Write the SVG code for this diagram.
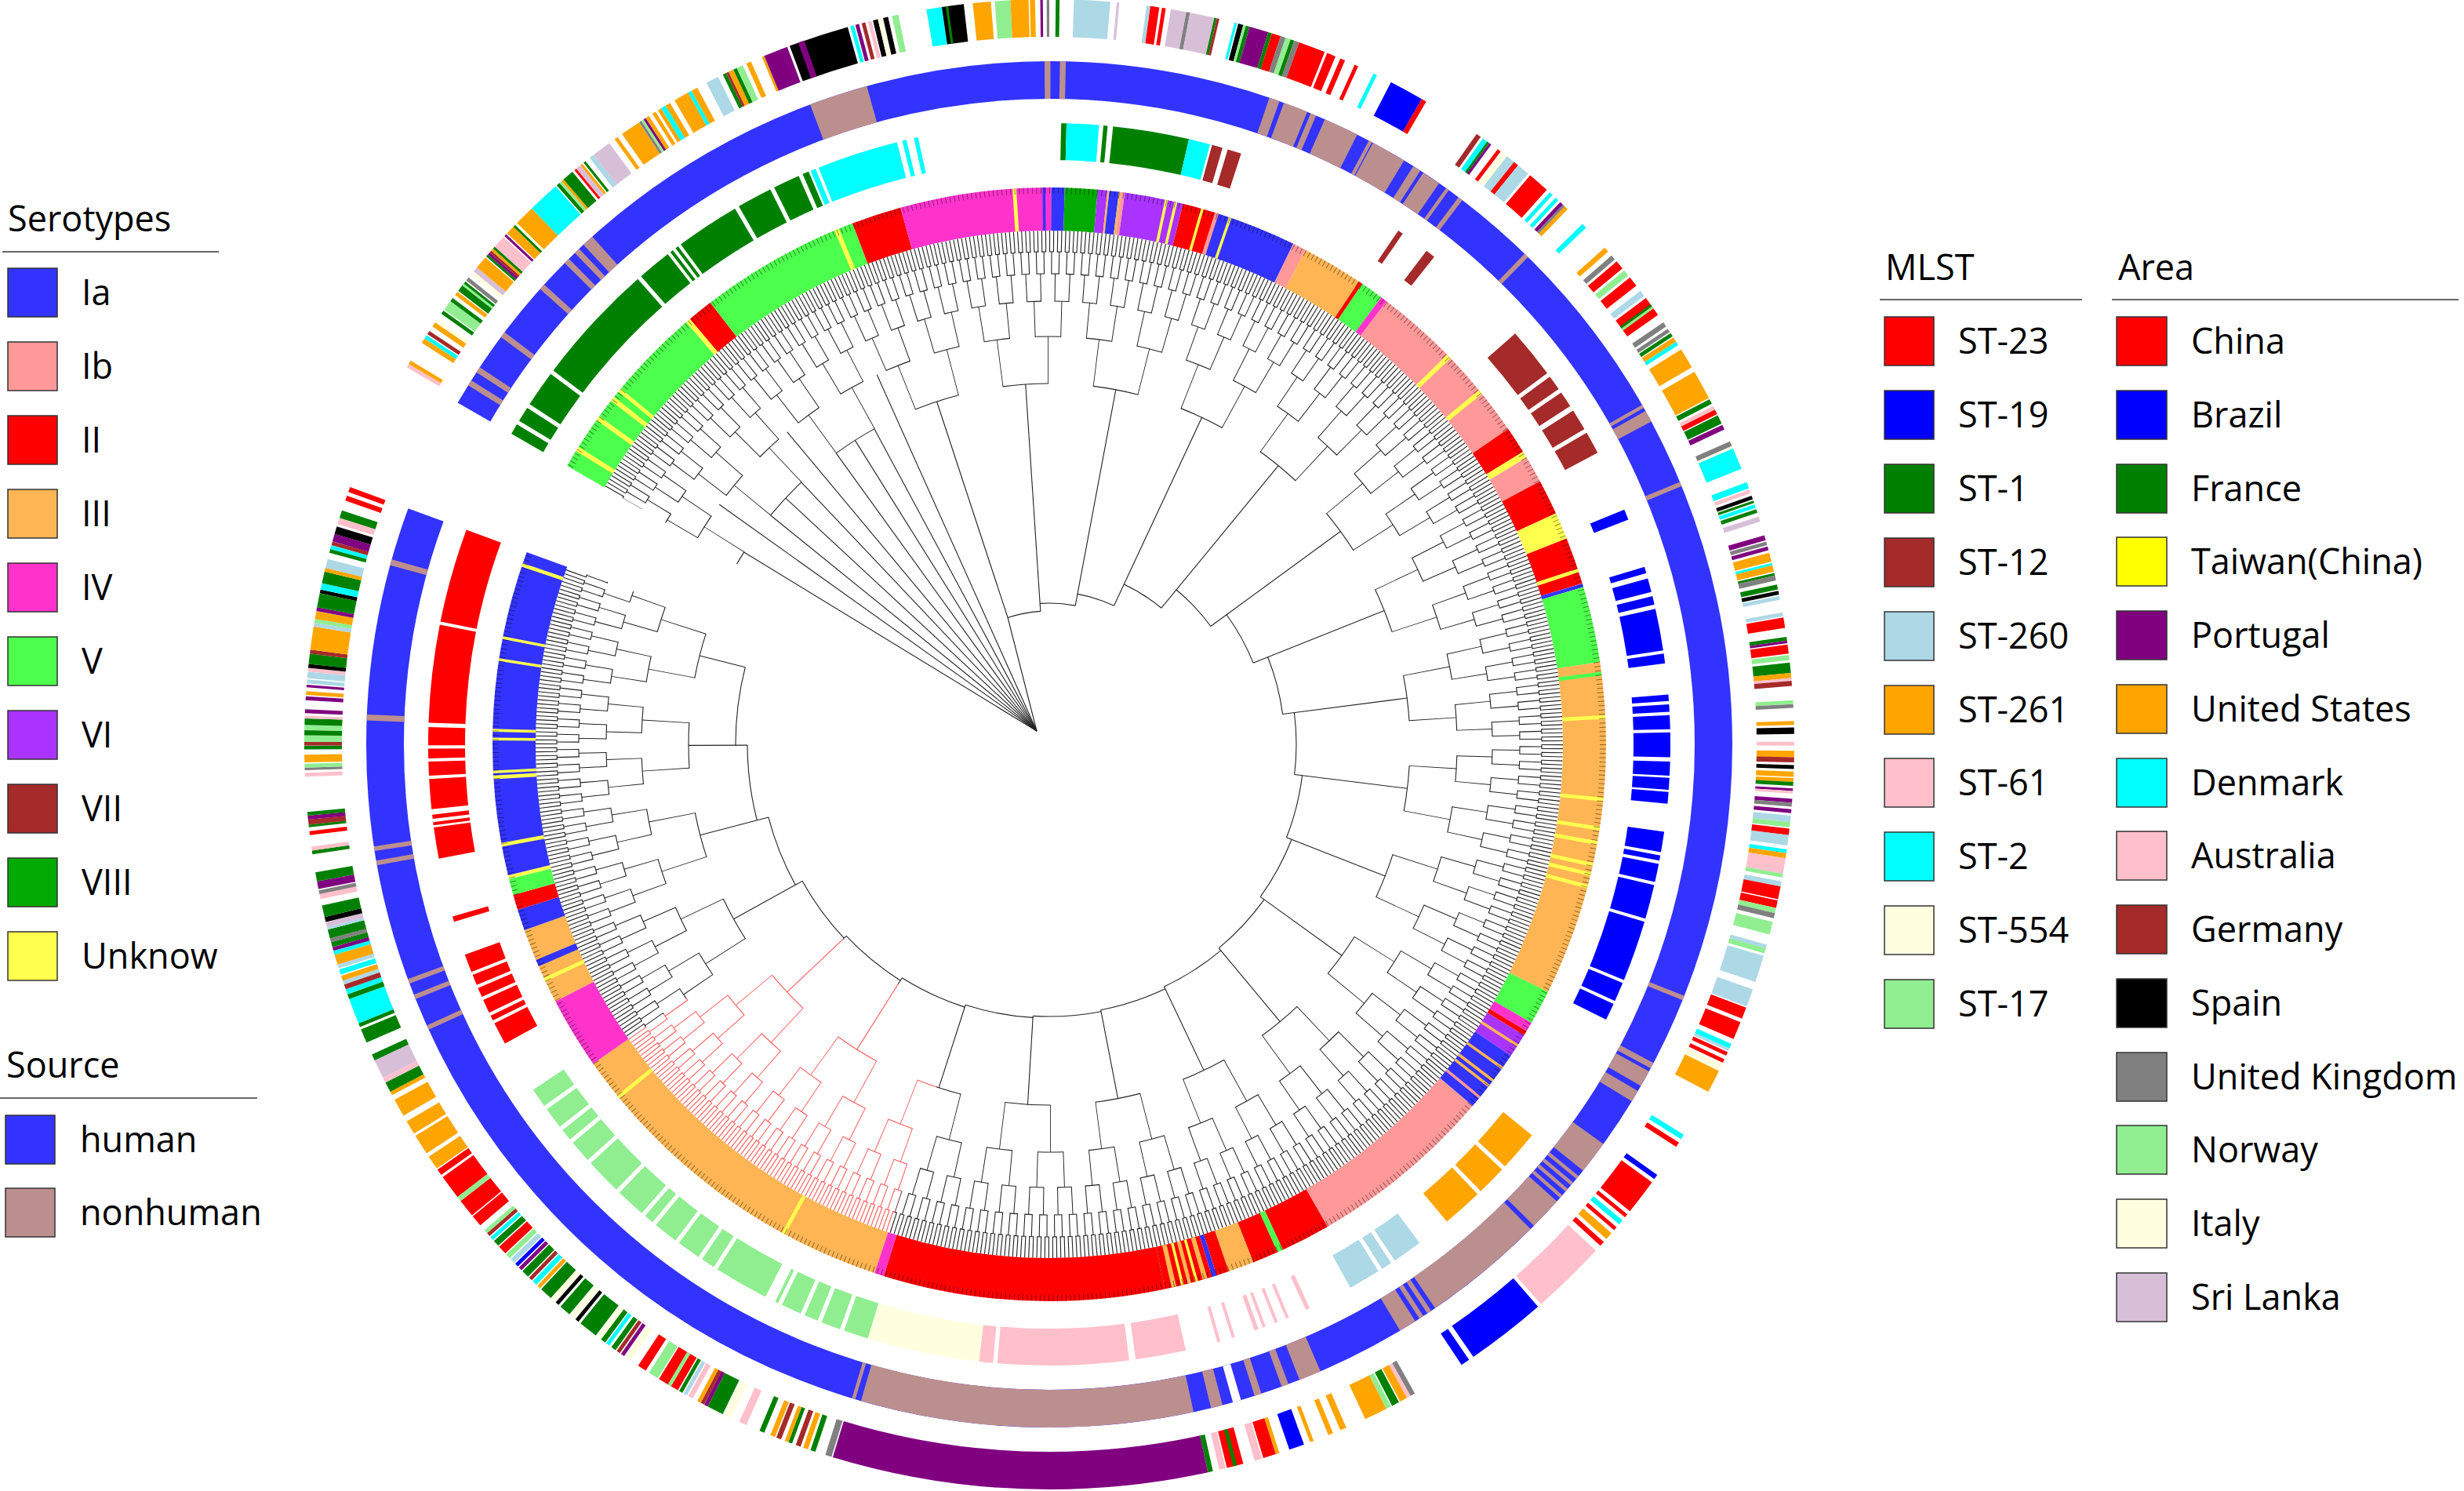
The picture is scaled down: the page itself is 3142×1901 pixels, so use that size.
<svg xmlns="http://www.w3.org/2000/svg" width="3142" height="1901" viewBox="0 0 3142 1901">
<style>
text{font-family:"Open Sans","Noto Sans","Liberation Sans",sans-serif;font-size:45px;fill:#000}
.lg rect{stroke:#333;stroke-width:1.5}
.ln{stroke:#333;stroke-width:1.5}
.a{stroke:#3333ff}.b{stroke:#ff9999}.c{stroke:#ff0000}.d{stroke:#ffb553}.e{stroke:#ff33cc}.f{stroke:#4dff4d}.g{stroke:#aa33ff}.i{stroke:#00aa00}.u{stroke:#ffff4d}
.R{stroke:#ff0000}.B{stroke:#0000ff}.G{stroke:#008000}.Br{stroke:#a52a2a}.Lb{stroke:#add8e6}.O{stroke:#ffa500}.Pk{stroke:#ffc0cb}.Cy{stroke:#00ffff}.Iv{stroke:#ffffe0}.Lg{stroke:#90ee90}.Pu{stroke:#800080}.Bk{stroke:#000}.Gy{stroke:#808080}.Th{stroke:#d8bfd8}.nh{stroke:#bc8f8f}.W{stroke:#fff}
#tree circle,#tree path{fill:none}
</style>
<defs>
<circle id="S0" r="682.5" pathLength="360" fill="none"/>
<circle id="M0" r="768.5" pathLength="360" fill="none"/>
<circle id="H0" r="847" pathLength="360" fill="none"/>
<circle id="A0" r="926" pathLength="360" fill="none"/>
<mask id="mk" maskUnits="userSpaceOnUse" x="-1000" y="-1000" width="2000" height="2000">
<rect x="-1000" y="-1000" width="2000" height="2000" fill="#fff"/>
<circle r="511" fill="none" stroke="#000" stroke-width="298" pathLength="360" stroke-dasharray="36.7 400" stroke-dashoffset="-108.3"/>
<circle r="362" fill="none" stroke="#000" stroke-width="724" pathLength="360" stroke-dasharray="9.8 400" stroke-dashoffset="-200.2"/>
</mask>
<mask id="mr" maskUnits="userSpaceOnUse" x="-1000" y="-1000" width="2000" height="2000">
<circle r="511" fill="none" stroke="#fff" stroke-width="298" pathLength="360" stroke-dasharray="36.7 400" stroke-dashoffset="-108.3"/>
</mask>
<g id="tree">
<circle r="641.5" stroke-width="27" pathLength="360" stroke-dasharray="0.1 0.35"/>
<circle r="628" pathLength="360" stroke-dasharray="0.55 0.35"/>
<circle r="614" stroke-width="28" pathLength="360" stroke-dasharray="0.1 0.8" stroke-dashoffset="-0.225"/>
<circle r="600" pathLength="360" stroke-dasharray="1 0.8" stroke-dashoffset="-0.225"/>
<circle r="582.5" stroke-width="35" pathLength="360" stroke-dasharray="0.1 1.7" stroke-dashoffset="-0.675"/>
<circle r="565" pathLength="360" stroke-dasharray="1.9 1.7" stroke-dashoffset="-0.675"/>
<circle r="542.5" stroke-width="45" pathLength="360" stroke-dasharray="0.1 3.5" stroke-dashoffset="-1.575"/>
<circle r="520" pathLength="360" stroke-dasharray="3.7 3.5" stroke-dashoffset="-1.575"/>
<circle r="490" stroke-width="60" pathLength="360" stroke-dasharray="0.1 7.1" stroke-dashoffset="-3.375"/>
<circle r="460" pathLength="360" stroke-dasharray="7.3 7.1" stroke-dashoffset="-3.375"/>
<circle r="170" pathLength="360" stroke-dasharray="14.4 400" stroke-dashoffset="-251.83"/>
<circle r="180" pathLength="360" stroke-dasharray="14.4 400" stroke-dashoffset="-266.23"/>
<circle r="195" pathLength="360" stroke-dasharray="14.4 400" stroke-dashoffset="-280.63"/>
<circle r="225" pathLength="360" stroke-dasharray="14.4 400" stroke-dashoffset="-295.03"/>
<circle r="255" pathLength="360" stroke-dasharray="14.4 400" stroke-dashoffset="-309.43"/>
<circle r="280" pathLength="360" stroke-dasharray="14.4 400" stroke-dashoffset="-323.83"/>
<circle r="300" pathLength="360" stroke-dasharray="14.4 400" stroke-dashoffset="-338.23"/>
<circle r="315" pathLength="360" stroke-dasharray="7.37 400" stroke-dashoffset="-352.63"/>
<circle r="315" pathLength="360" stroke-dasharray="7.03 400"/>
<circle r="325" pathLength="360" stroke-dasharray="14.4 400" stroke-dashoffset="-7.03"/>
<circle r="332" pathLength="360" stroke-dasharray="14.4 400" stroke-dashoffset="-21.43"/>
<circle r="338" pathLength="360" stroke-dasharray="14.4 400" stroke-dashoffset="-35.83"/>
<circle r="342" pathLength="360" stroke-dasharray="14.4 400" stroke-dashoffset="-50.23"/>
<circle r="345" pathLength="360" stroke-dasharray="14.4 400" stroke-dashoffset="-64.63"/>
<circle r="347" pathLength="360" stroke-dasharray="14.4 400" stroke-dashoffset="-79.03"/>
<circle r="349" pathLength="360" stroke-dasharray="14.4 400" stroke-dashoffset="-93.43"/>
<circle r="352" pathLength="360" stroke-dasharray="14.4 400" stroke-dashoffset="-107.83"/>
<circle r="356" pathLength="360" stroke-dasharray="14.4 400" stroke-dashoffset="-122.23"/>
<circle r="360" pathLength="360" stroke-dasharray="14.4 400" stroke-dashoffset="-136.63"/>
<circle r="370" pathLength="360" stroke-dasharray="14.4 400" stroke-dashoffset="-151.03"/>
<circle r="385" pathLength="360" stroke-dasharray="14.4 400" stroke-dashoffset="-165.43"/>
<circle r="400" pathLength="360" stroke-dasharray="14.4 400" stroke-dashoffset="-179.83"/>
<path d="M-16 -17L-389.3 -245"/>
<path d="M-16 -17L-420.7 -305.7"/>
<path d="M-16 -17L-355.4 -292"/>
<path d="M-16 -17L-336.2 -313.9"/>
<path d="M-16 -17L-316.2 -334.1"/>
<path d="M-16 -17L-334.3 -398.3"/>
<path d="M-16 -17L-271.8 -371.1"/>
<path d="M-16 -17L-247.7 -387.6"/>
<path d="M-16 -17L-223.1 -402.3"/>
<path d="M-16 -17L-219.8 -471.3"/>
<path d="M-16 -17L-52.9 -161.5L-143.4 -437"/>
<path d="M170 0H460" transform="rotate(266.23)"/>
<path d="M180 0H460" transform="rotate(280.63)"/>
<path d="M195 0H460" transform="rotate(295.03)"/>
<path d="M225 0H460" transform="rotate(309.43)"/>
<path d="M255 0H460" transform="rotate(323.83)"/>
<path d="M280 0H460" transform="rotate(338.23)"/>
<path d="M300 0H460" transform="rotate(352.63)"/>
<path d="M315 0H460" transform="rotate(7.03)"/>
<path d="M325 0H460" transform="rotate(21.43)"/>
<path d="M332 0H460" transform="rotate(35.83)"/>
<path d="M338 0H460" transform="rotate(50.23)"/>
<path d="M342 0H460" transform="rotate(64.63)"/>
<path d="M345 0H460" transform="rotate(79.03)"/>
<path d="M347 0H460" transform="rotate(93.43)"/>
<path d="M349 0H460" transform="rotate(107.83)"/>
<path d="M352 0H460" transform="rotate(122.23)"/>
<path d="M356 0H460" transform="rotate(136.63)"/>
<path d="M360 0H460" transform="rotate(151.03)"/>
<path d="M370 0H460" transform="rotate(165.43)"/>
<path d="M385 0H460" transform="rotate(179.83)"/>
<path d="M400 0H460" transform="rotate(194.23)"/>
</g>
</defs>
<rect width="3142" height="1901" fill="#fff"/>

<g id="phylogeny" transform="translate(1338 949)">
<use href="#tree" stroke="#222" stroke-width="1.1" mask="url(#mk)"/>
<use href="#tree" stroke="#ff5a5a" stroke-width="1.1" mask="url(#mr)"/>
</g>

<g id="serotype-ring" transform="translate(1338 949)" stroke-width="55">
<use href="#S0" class="f" stroke-dasharray="19.3 400" stroke-dashoffset="-210"/>
<use href="#S0" class="c" stroke-dasharray="2.7 400" stroke-dashoffset="-229.8"/>
<use href="#S0" class="f" stroke-dasharray="16.8 400" stroke-dashoffset="-232.5"/>
<use href="#S0" class="c" stroke-dasharray="5.2 400" stroke-dashoffset="-249.3"/>
<use href="#S0" class="e" stroke-dasharray="15.7 400" stroke-dashoffset="-254.5"/>
<use href="#S0" class="a" stroke-dasharray="1.4 400" stroke-dashoffset="-270.2"/>
<use href="#S0" class="i" stroke-dasharray="3.4 400" stroke-dashoffset="-271.6"/>
<use href="#S0" class="g" stroke-dasharray="1 400" stroke-dashoffset="-275"/>
<use href="#S0" class="d" stroke-dasharray="0.2 400" stroke-dashoffset="-276"/>
<use href="#S0" class="a" stroke-dasharray="1 400" stroke-dashoffset="-276.2"/>
<use href="#S0" class="d" stroke-dasharray="0.2 400" stroke-dashoffset="-277.2"/>
<use href="#S0" class="b" stroke-dasharray="0.4 400" stroke-dashoffset="-277.4"/>
<use href="#S0" class="g" stroke-dasharray="6.1 400" stroke-dashoffset="-277.8"/>
<use href="#S0" class="c" stroke-dasharray="3.8 400" stroke-dashoffset="-283.9"/>
<use href="#S0" class="a" stroke-dasharray="8.3 400" stroke-dashoffset="-287.7"/>
<use href="#S0" class="b" stroke-dasharray="1.4 400" stroke-dashoffset="-296"/>
<use href="#S0" class="d" stroke-dasharray="6.6 400" stroke-dashoffset="-297.4"/>
<use href="#S0" class="f" stroke-dasharray="2.4 400" stroke-dashoffset="-304.2"/>
<use href="#S0" class="e" stroke-dasharray="0.7 400" stroke-dashoffset="-306.6"/>
<use href="#S0" class="b" stroke-dasharray="18.2 400" stroke-dashoffset="-307.3"/>
<use href="#S0" class="c" stroke-dasharray="2.8 400" stroke-dashoffset="-325.5"/>
<use href="#S0" class="u" stroke-dasharray="0.7 400" stroke-dashoffset="-328.3"/>
<use href="#S0" class="b" stroke-dasharray="2.8 400" stroke-dashoffset="-329"/>
<use href="#S0" class="c" stroke-dasharray="3.7 400" stroke-dashoffset="-331.8"/>
<use href="#S0" class="u" stroke-dasharray="2.8 400" stroke-dashoffset="-335.5"/>
<use href="#S0" class="c" stroke-dasharray="4.9 400" stroke-dashoffset="-338.3"/>
<use href="#S0" class="a" stroke-dasharray="0.4 400" stroke-dashoffset="-343.2"/>
<use href="#S0" class="f" stroke-dasharray="7.9 400" stroke-dashoffset="-343.6"/>
<use href="#S0" class="d" stroke-dasharray="8.5 400" stroke-dashoffset="-351.5"/>
<use href="#S0" class="d" stroke-dasharray="26.4 400"/>
<use href="#S0" class="f" stroke-dasharray="3.6 400" stroke-dashoffset="-26.4"/>
<use href="#S0" class="e" stroke-dasharray="1 400" stroke-dashoffset="-30"/>
<use href="#S0" class="c" stroke-dasharray="0.5 400" stroke-dashoffset="-31"/>
<use href="#S0" class="g" stroke-dasharray="2.5 400" stroke-dashoffset="-31.5"/>
<use href="#S0" class="a" stroke-dasharray="6.5 400" stroke-dashoffset="-34"/>
<use href="#S0" class="b" stroke-dasharray="19.5 400" stroke-dashoffset="-40.5"/>
<use href="#S0" class="c" stroke-dasharray="5.2 400" stroke-dashoffset="-60"/>
<use href="#S0" class="f" stroke-dasharray="0.6 400" stroke-dashoffset="-65.2"/>
<use href="#S0" class="c" stroke-dasharray="2.7 400" stroke-dashoffset="-65.8"/>
<use href="#S0" class="d" stroke-dasharray="2.7 400" stroke-dashoffset="-68.5"/>
<use href="#S0" class="c" stroke-dasharray="1.3 400" stroke-dashoffset="-71.2"/>
<use href="#S0" class="a" stroke-dasharray="0.5 400" stroke-dashoffset="-72.5"/>
<use href="#S0" class="c" stroke-dasharray="5 400" stroke-dashoffset="-73"/>
<use href="#S0" class="c" stroke-dasharray="29.3 400" stroke-dashoffset="-78"/>
<use href="#S0" class="e" stroke-dasharray="1 400" stroke-dashoffset="-107.3"/>
<use href="#S0" class="d" stroke-dasharray="36.7 400" stroke-dashoffset="-108.3"/>
<use href="#S0" class="e" stroke-dasharray="7.5 400" stroke-dashoffset="-145"/>
<use href="#S0" class="d" stroke-dasharray="8 400" stroke-dashoffset="-152.5"/>
<use href="#S0" class="a" stroke-dasharray="2.2 400" stroke-dashoffset="-160.5"/>
<use href="#S0" class="c" stroke-dasharray="1.6 400" stroke-dashoffset="-162.7"/>
<use href="#S0" class="f" stroke-dasharray="1.7 400" stroke-dashoffset="-164.3"/>
<use href="#S0" class="u" stroke-dasharray="0.4 400" stroke-dashoffset="-166"/>
<use href="#S0" class="a" stroke-dasharray="33.8 400" stroke-dashoffset="-166.4"/>
<use href="#S0" class="u" stroke-dasharray="0.5 400" stroke-dashoffset="-211.8"/>
<use href="#S0" class="u" stroke-dasharray="0.5 400" stroke-dashoffset="-215.6"/>
<use href="#S0" class="u" stroke-dasharray="0.5 400" stroke-dashoffset="-218.1"/>
<use href="#S0" class="u" stroke-dasharray="0.4 400" stroke-dashoffset="-219.3"/>
<use href="#S0" class="u" stroke-dasharray="0.5 400" stroke-dashoffset="-229.3"/>
<use href="#S0" class="u" stroke-dasharray="0.5 400" stroke-dashoffset="-247.3"/>
<use href="#S0" class="u" stroke-dasharray="0.4 400" stroke-dashoffset="-266.2"/>
<use href="#S0" class="a" stroke-dasharray="0.3 400" stroke-dashoffset="-269.3"/>
<use href="#S0" class="u" stroke-dasharray="0.3 400" stroke-dashoffset="-282"/>
<use href="#S0" class="u" stroke-dasharray="0.3 400" stroke-dashoffset="-283"/>
<use href="#S0" class="u" stroke-dasharray="0.3 400" stroke-dashoffset="-285.8"/>
<use href="#S0" class="b" stroke-dasharray="0.4 400" stroke-dashoffset="-287.3"/>
<use href="#S0" class="u" stroke-dasharray="0.3 400" stroke-dashoffset="-288.8"/>
<use href="#S0" class="c" stroke-dasharray="0.4 400" stroke-dashoffset="-303.8"/>
<use href="#S0" class="u" stroke-dasharray="0.5 400" stroke-dashoffset="-315.6"/>
<use href="#S0" class="u" stroke-dasharray="0.5 400" stroke-dashoffset="-320.5"/>
<use href="#S0" class="u" stroke-dasharray="0.4 400" stroke-dashoffset="-341.6"/>
<use href="#S0" class="f" stroke-dasharray="0.4 400" stroke-dashoffset="-352.5"/>
<use href="#S0" class="u" stroke-dasharray="0.4 400" stroke-dashoffset="-357"/>
<use href="#S0" class="u" stroke-dasharray="0.4 400" stroke-dashoffset="-5.5"/>
<use href="#S0" class="u" stroke-dasharray="0.4 400" stroke-dashoffset="-8.5"/>
<use href="#S0" class="u" stroke-dasharray="0.4 400" stroke-dashoffset="-10"/>
<use href="#S0" class="u" stroke-dasharray="0.4 400" stroke-dashoffset="-12.3"/>
<use href="#S0" class="u" stroke-dasharray="0.4 400" stroke-dashoffset="-13.3"/>
<use href="#S0" class="u" stroke-dasharray="0.4 400" stroke-dashoffset="-14.6"/>
<use href="#S0" class="d" stroke-dasharray="0.3 400" stroke-dashoffset="-32.6"/>
<use href="#S0" class="d" stroke-dasharray="0.3 400" stroke-dashoffset="-35.4"/>
<use href="#S0" class="d" stroke-dasharray="0.3 400" stroke-dashoffset="-37"/>
<use href="#S0" class="d" stroke-dasharray="0.3 400" stroke-dashoffset="-37.7"/>
<use href="#S0" class="b" stroke-dasharray="0.3 400" stroke-dashoffset="-39.2"/>
<use href="#S0" class="d" stroke-dasharray="0.5 400" stroke-dashoffset="-73.5"/>
<use href="#S0" class="u" stroke-dasharray="0.3 400" stroke-dashoffset="-74.5"/>
<use href="#S0" class="d" stroke-dasharray="0.4 400" stroke-dashoffset="-75.2"/>
<use href="#S0" class="u" stroke-dasharray="0.3 400" stroke-dashoffset="-76"/>
<use href="#S0" class="d" stroke-dasharray="0.5 400" stroke-dashoffset="-76.8"/>
<use href="#S0" class="u" stroke-dasharray="0.4 400" stroke-dashoffset="-118.3"/>
<use href="#S0" class="u" stroke-dasharray="0.4 400" stroke-dashoffset="-140.5"/>
<use href="#S0" class="u" stroke-dasharray="0.4 400" stroke-dashoffset="-154.8"/>
<use href="#S0" class="a" stroke-dasharray="0.7 400" stroke-dashoffset="-156.5"/>
<use href="#S0" class="u" stroke-dasharray="0.4 400" stroke-dashoffset="-169.4"/>
<use href="#S0" class="u" stroke-dasharray="0.4 400" stroke-dashoffset="-176.4"/>
<use href="#S0" class="u" stroke-dasharray="0.3 400" stroke-dashoffset="-177"/>
<use href="#S0" class="u" stroke-dasharray="0.3 400" stroke-dashoffset="-180.4"/>
<use href="#S0" class="u" stroke-dasharray="0.3 400" stroke-dashoffset="-181.3"/>
<use href="#S0" class="u" stroke-dasharray="0.3 400" stroke-dashoffset="-188.6"/>
<use href="#S0" class="u" stroke-dasharray="0.3 400" stroke-dashoffset="-190.9"/>
<use href="#S0" class="u" stroke-dasharray="0.4 400" stroke-dashoffset="-198.6"/>
<circle r="706" fill="none" stroke="#000" stroke-opacity="0.45" stroke-width="8" pathLength="360" stroke-dasharray="0.08 0.37" mask="url(#mk)"/>
</g>

<g id="mlst-ring" transform="translate(1338 949)" stroke-width="47">
<use href="#M0" class="G" stroke-dasharray="1 400" stroke-dashoffset="-210"/>
<use href="#M0" class="G" stroke-dasharray="1.4 400" stroke-dashoffset="-211.4"/>
<use href="#M0" class="G" stroke-dasharray="3.4 400" stroke-dashoffset="-213.2"/>
<use href="#M0" class="G" stroke-dasharray="11.5 400" stroke-dashoffset="-217"/>
<use href="#M0" class="G" stroke-dasharray="3.2 400" stroke-dashoffset="-228.9"/>
<use href="#M0" class="G" stroke-dasharray="0.3 400" stroke-dashoffset="-232.4"/>
<use href="#M0" class="G" stroke-dasharray="0.3 400" stroke-dashoffset="-233"/>
<use href="#M0" class="G" stroke-dasharray="6 400" stroke-dashoffset="-233.6"/>
<use href="#M0" class="G" stroke-dasharray="3.3 400" stroke-dashoffset="-240"/>
<use href="#M0" class="G" stroke-dasharray="2.5 400" stroke-dashoffset="-243.7"/>
<use href="#M0" class="G" stroke-dasharray="0.6 400" stroke-dashoffset="-246.6"/>
<use href="#M0" class="Cy" stroke-dasharray="0.5 400" stroke-dashoffset="-247.4"/>
<use href="#M0" class="Cy" stroke-dasharray="7.6 400" stroke-dashoffset="-248.2"/>
<use href="#M0" class="Cy" stroke-dasharray="0.4 400" stroke-dashoffset="-256.3"/>
<use href="#M0" class="Cy" stroke-dasharray="0.4 400" stroke-dashoffset="-257.4"/>
<use href="#M0" class="G" stroke-dasharray="0.5 400" stroke-dashoffset="-271.1"/>
<use href="#M0" class="Cy" stroke-dasharray="3 400" stroke-dashoffset="-271.6"/>
<use href="#M0" class="G" stroke-dasharray="0.4 400" stroke-dashoffset="-275"/>
<use href="#M0" class="G" stroke-dasharray="7.1 400" stroke-dashoffset="-275.9"/>
<use href="#M0" class="Cy" stroke-dasharray="2 400" stroke-dashoffset="-283"/>
<use href="#M0" class="Br" stroke-dasharray="1 400" stroke-dashoffset="-285.2"/>
<use href="#M0" class="Br" stroke-dasharray="1.3 400" stroke-dashoffset="-286.7"/>
<use href="#M0" class="Br" stroke-dasharray="0.5 400" stroke-dashoffset="-304.2"/>
<use href="#M0" class="Br" stroke-dasharray="0.9 400" stroke-dashoffset="-307.4"/>
<use href="#M0" class="Br" stroke-dasharray="4.7 400" stroke-dashoffset="-318.6"/>
<use href="#M0" class="Br" stroke-dasharray="1.4 400" stroke-dashoffset="-323.7"/>
<use href="#M0" class="Br" stroke-dasharray="1.5 400" stroke-dashoffset="-325.5"/>
<use href="#M0" class="Br" stroke-dasharray="2 400" stroke-dashoffset="-327.5"/>
<use href="#M0" class="Br" stroke-dasharray="2.1 400" stroke-dashoffset="-329.9"/>
<use href="#M0" class="B" stroke-dasharray="1 400" stroke-dashoffset="-337.8"/>
<use href="#M0" class="B" stroke-dasharray="0.6 400" stroke-dashoffset="-343.4"/>
<use href="#M0" class="B" stroke-dasharray="1.3 400" stroke-dashoffset="-344.5"/>
<use href="#M0" class="B" stroke-dasharray="0.8 400" stroke-dashoffset="-346.2"/>
<use href="#M0" class="B" stroke-dasharray="3.9 400" stroke-dashoffset="-347.4"/>
<use href="#M0" class="B" stroke-dasharray="0.9 400" stroke-dashoffset="-351.6"/>
<use href="#M0" class="B" stroke-dasharray="0.6 400" stroke-dashoffset="-355.4"/>
<use href="#M0" class="B" stroke-dasharray="0.7 400" stroke-dashoffset="-356.3"/>
<use href="#M0" class="B" stroke-dasharray="1.3 400" stroke-dashoffset="-357.3"/>
<use href="#M0" class="B" stroke-dasharray="1.1 400" stroke-dashoffset="-358.9"/>
<use href="#M0" class="B" stroke-dasharray="1.2 400"/>
<use href="#M0" class="B" stroke-dasharray="1.3 400" stroke-dashoffset="-1.6"/>
<use href="#M0" class="B" stroke-dasharray="1.1 400" stroke-dashoffset="-3.1"/>
<use href="#M0" class="B" stroke-dasharray="1.1 400" stroke-dashoffset="-4.4"/>
<use href="#M0" class="B" stroke-dasharray="1.9 400" stroke-dashoffset="-8.1"/>
<use href="#M0" class="B" stroke-dasharray="0.5 400" stroke-dashoffset="-10.3"/>
<use href="#M0" class="B" stroke-dasharray="1.7 400" stroke-dashoffset="-11.1"/>
<use href="#M0" class="B" stroke-dasharray="3.2 400" stroke-dashoffset="-13.1"/>
<use href="#M0" class="B" stroke-dasharray="5.7 400" stroke-dashoffset="-16.6"/>
<use href="#M0" class="B" stroke-dasharray="1.8 400" stroke-dashoffset="-22.6"/>
<use href="#M0" class="B" stroke-dasharray="1.6 400" stroke-dashoffset="-24.7"/>
<use href="#M0" class="O" stroke-dasharray="3.8 400" stroke-dashoffset="-39"/>
<use href="#M0" class="O" stroke-dasharray="2.8 400" stroke-dashoffset="-43.2"/>
<use href="#M0" class="O" stroke-dasharray="3.8 400" stroke-dashoffset="-46.4"/>
<use href="#M0" class="Lb" stroke-dasharray="2.8 400" stroke-dashoffset="-53.4"/>
<use href="#M0" class="Lb" stroke-dasharray="1 400" stroke-dashoffset="-56.6"/>
<use href="#M0" class="Lb" stroke-dasharray="3 400" stroke-dashoffset="-58"/>
<use href="#M0" class="Pk" stroke-dasharray="0.4 400" stroke-dashoffset="-65.2"/>
<use href="#M0" class="Pk" stroke-dasharray="0.3 400" stroke-dashoffset="-67.3"/>
<use href="#M0" class="Pk" stroke-dasharray="0.3 400" stroke-dashoffset="-68.4"/>
<use href="#M0" class="Pk" stroke-dasharray="0.3 400" stroke-dashoffset="-69.6"/>
<use href="#M0" class="Pk" stroke-dasharray="0.4 400" stroke-dashoffset="-70.3"/>
<use href="#M0" class="Pk" stroke-dasharray="0.3 400" stroke-dashoffset="-72.6"/>
<use href="#M0" class="Pk" stroke-dasharray="0.3 400" stroke-dashoffset="-74"/>
<use href="#M0" class="Pk" stroke-dasharray="4.7 400" stroke-dashoffset="-77.3"/>
<use href="#M0" class="Pk" stroke-dasharray="12.2 400" stroke-dashoffset="-82.6"/>
<use href="#M0" class="Pk" stroke-dasharray="1.3 400" stroke-dashoffset="-95.2"/>
<use href="#M0" class="Iv" stroke-dasharray="10.5 400" stroke-dashoffset="-96.5"/>
<use href="#M0" class="Lg" stroke-dasharray="2.3 400" stroke-dashoffset="-107"/>
<use href="#M0" class="Lg" stroke-dasharray="1.8 400" stroke-dashoffset="-109.7"/>
<use href="#M0" class="Lg" stroke-dasharray="1.3 400" stroke-dashoffset="-111.9"/>
<use href="#M0" class="Lg" stroke-dasharray="1.9 400" stroke-dashoffset="-113.6"/>
<use href="#M0" class="Lg" stroke-dasharray="0.3 400" stroke-dashoffset="-115.9"/>
<use href="#M0" class="Lg" stroke-dasharray="5.1 400" stroke-dashoffset="-117.2"/>
<use href="#M0" class="Lg" stroke-dasharray="1.3 400" stroke-dashoffset="-122.7"/>
<use href="#M0" class="Lg" stroke-dasharray="2.2 400" stroke-dashoffset="-124.4"/>
<use href="#M0" class="Lg" stroke-dasharray="2.3 400" stroke-dashoffset="-127"/>
<use href="#M0" class="Lg" stroke-dasharray="0.9 400" stroke-dashoffset="-129.7"/>
<use href="#M0" class="Lg" stroke-dasharray="2.8 400" stroke-dashoffset="-131"/>
<use href="#M0" class="Lg" stroke-dasharray="3.4 400" stroke-dashoffset="-134.2"/>
<use href="#M0" class="Lg" stroke-dasharray="2.1 400" stroke-dashoffset="-138"/>
<use href="#M0" class="Lg" stroke-dasharray="1.1 400" stroke-dashoffset="-140.5"/>
<use href="#M0" class="Lg" stroke-dasharray="2 400" stroke-dashoffset="-142"/>
<use href="#M0" class="Lg" stroke-dasharray="1.8 400" stroke-dashoffset="-144.4"/>
<use href="#M0" class="R" stroke-dasharray="2.1 400" stroke-dashoffset="-151.2"/>
<use href="#M0" class="R" stroke-dasharray="0.5 400" stroke-dashoffset="-153.6"/>
<use href="#M0" class="R" stroke-dasharray="1.3 400" stroke-dashoffset="-154.4"/>
<use href="#M0" class="R" stroke-dasharray="0.9 400" stroke-dashoffset="-156"/>
<use href="#M0" class="R" stroke-dasharray="1 400" stroke-dashoffset="-157.2"/>
<use href="#M0" class="R" stroke-dasharray="1.7 400" stroke-dashoffset="-158.5"/>
<use href="#M0" class="R" stroke-dasharray="0.5 400" stroke-dashoffset="-163.4"/>
<use href="#M0" class="R" stroke-dasharray="2.9 400" stroke-dashoffset="-169.4"/>
<use href="#M0" class="R" stroke-dasharray="0.3 400" stroke-dashoffset="-172.5"/>
<use href="#M0" class="R" stroke-dasharray="0.4 400" stroke-dashoffset="-173.1"/>
<use href="#M0" class="R" stroke-dasharray="2.8 400" stroke-dashoffset="-174"/>
<use href="#M0" class="R" stroke-dasharray="1.3 400" stroke-dashoffset="-177.1"/>
<use href="#M0" class="R" stroke-dasharray="0.9 400" stroke-dashoffset="-178.7"/>
<use href="#M0" class="R" stroke-dasharray="1.7 400" stroke-dashoffset="-179.9"/>
<use href="#M0" class="R" stroke-dasharray="9.1 400" stroke-dashoffset="-182"/>
<use href="#M0" class="R" stroke-dasharray="8.8 400" stroke-dashoffset="-191.4"/>
</g>

<g id="source-ring" transform="translate(1338 949)" stroke-width="48">
<use href="#H0" class="a" stroke-dasharray="150 400" stroke-dashoffset="-210"/>
<use href="#H0" class="a" stroke-dasharray="200.2 400"/>
<use href="#H0" class="nh" stroke-dasharray="0.5 400" stroke-dashoffset="-211.7"/>
<use href="#H0" class="nh" stroke-dasharray="0.5 400" stroke-dashoffset="-213"/>
<use href="#H0" class="nh" stroke-dasharray="0.5 400" stroke-dashoffset="-216.6"/>
<use href="#H0" class="nh" stroke-dasharray="0.5 400" stroke-dashoffset="-221.8"/>
<use href="#H0" class="nh" stroke-dasharray="0.5 400" stroke-dashoffset="-224.8"/>
<use href="#H0" class="nh" stroke-dasharray="0.5 400" stroke-dashoffset="-226"/>
<use href="#H0" class="nh" stroke-dasharray="1 400" stroke-dashoffset="-227"/>
<use href="#H0" class="nh" stroke-dasharray="5 400" stroke-dashoffset="-249.5"/>
<use href="#H0" class="nh" stroke-dasharray="0.5 400" stroke-dashoffset="-269.6"/>
<use href="#H0" class="nh" stroke-dasharray="0.5 400" stroke-dashoffset="-270.9"/>
<use href="#H0" class="nh" stroke-dasharray="0.9 400" stroke-dashoffset="-288.8"/>
<use href="#H0" class="nh" stroke-dasharray="2.1 400" stroke-dashoffset="-290.1"/>
<use href="#H0" class="nh" stroke-dasharray="0.5 400" stroke-dashoffset="-292.5"/>
<use href="#H0" class="nh" stroke-dasharray="3 400" stroke-dashoffset="-293.8"/>
<use href="#H0" class="nh" stroke-dasharray="0.3 400" stroke-dashoffset="-297.9"/>
<use href="#H0" class="nh" stroke-dasharray="3 400" stroke-dashoffset="-298.3"/>
<use href="#H0" class="nh" stroke-dasharray="0.7 400" stroke-dashoffset="-302.2"/>
<use href="#H0" class="nh" stroke-dasharray="1.6 400" stroke-dashoffset="-303.2"/>
<use href="#H0" class="nh" stroke-dasharray="0.3 400" stroke-dashoffset="-305.5"/>
<use href="#H0" class="nh" stroke-dasharray="0.4 400" stroke-dashoffset="-306.8"/>
<use href="#H0" class="nh" stroke-dasharray="0.4 400" stroke-dashoffset="-314.1"/>
<use href="#H0" class="nh" stroke-dasharray="0.3 400" stroke-dashoffset="-330.2"/>
<use href="#H0" class="nh" stroke-dasharray="1 400" stroke-dashoffset="-330.8"/>
<use href="#H0" class="nh" stroke-dasharray="0.4 400" stroke-dashoffset="-337.4"/>
<use href="#H0" class="nh" stroke-dasharray="0.4 400" stroke-dashoffset="-21.6"/>
<use href="#H0" class="nh" stroke-dasharray="0.5 400" stroke-dashoffset="-27.8"/>
<use href="#H0" class="nh" stroke-dasharray="1.4 400" stroke-dashoffset="-28.6"/>
<use href="#H0" class="nh" stroke-dasharray="1 400" stroke-dashoffset="-30.5"/>
<use href="#H0" class="nh" stroke-dasharray="2.8 400" stroke-dashoffset="-35.8"/>
<use href="#H0" class="nh" stroke-dasharray="0.3 400" stroke-dashoffset="-39.2"/>
<use href="#H0" class="nh" stroke-dasharray="0.3 400" stroke-dashoffset="-39.9"/>
<use href="#H0" class="nh" stroke-dasharray="0.3 400" stroke-dashoffset="-40.6"/>
<use href="#H0" class="nh" stroke-dasharray="0.3 400" stroke-dashoffset="-41.3"/>
<use href="#H0" class="nh" stroke-dasharray="2.8 400" stroke-dashoffset="-42"/>
<use href="#H0" class="nh" stroke-dasharray="10.4 400" stroke-dashoffset="-45.2"/>
<use href="#H0" class="nh" stroke-dasharray="0.4 400" stroke-dashoffset="-56"/>
<use href="#H0" class="nh" stroke-dasharray="0.4 400" stroke-dashoffset="-56.8"/>
<use href="#H0" class="nh" stroke-dasharray="1.5 400" stroke-dashoffset="-57.6"/>
<use href="#H0" class="nh" stroke-dasharray="1.9 400" stroke-dashoffset="-66.6"/>
<use href="#H0" class="nh" stroke-dasharray="0.6 400" stroke-dashoffset="-69.5"/>
<use href="#H0" class="nh" stroke-dasharray="0.6 400" stroke-dashoffset="-71.9"/>
<use href="#H0" class="W" stroke-dasharray="0.7 400" stroke-dashoffset="-73.7"/>
<use href="#H0" class="nh" stroke-dasharray="1 400" stroke-dashoffset="-75.3"/>
<use href="#H0" class="nh" stroke-dasharray="28.2 400" stroke-dashoffset="-77.8"/>
<use href="#H0" class="nh" stroke-dasharray="0.3 400" stroke-dashoffset="-106.5"/>
<use href="#H0" class="nh" stroke-dasharray="0.4 400" stroke-dashoffset="-155.3"/>
<use href="#H0" class="nh" stroke-dasharray="0.4 400" stroke-dashoffset="-158.1"/>
<use href="#H0" class="nh" stroke-dasharray="0.4 400" stroke-dashoffset="-159.5"/>
<use href="#H0" class="nh" stroke-dasharray="0.4 400" stroke-dashoffset="-169.8"/>
<use href="#H0" class="nh" stroke-dasharray="0.4 400" stroke-dashoffset="-171"/>
<use href="#H0" class="nh" stroke-dasharray="0.5 400" stroke-dashoffset="-182"/>
<use href="#H0" class="nh" stroke-dasharray="0.5 400" stroke-dashoffset="-195.2"/>
</g>

<g id="area-ring" transform="translate(1338 949)" stroke-width="48">
<use href="#A0" class="Pk" stroke-dasharray="0.3 400" stroke-dashoffset="-210.4"/>
<use href="#A0" class="O" stroke-dasharray="0.3 400" stroke-dashoffset="-210.7"/>
<use href="#A0" class="O" stroke-dasharray="0.4 400" stroke-dashoffset="-212.6"/>
<use href="#A0" class="Cy" stroke-dasharray="0.3 400" stroke-dashoffset="-213"/>
<use href="#A0" class="Br" stroke-dasharray="0.3 400" stroke-dashoffset="-213.4"/>
<use href="#A0" class="O" stroke-dasharray="0.4 400" stroke-dashoffset="-214.1"/>
<use href="#A0" class="Iv" stroke-dasharray="0.3 400" stroke-dashoffset="-214.5"/>
<use href="#A0" class="G" stroke-dasharray="0.3 400" stroke-dashoffset="-215.3"/>
<use href="#A0" class="Lg" stroke-dasharray="0.8 400" stroke-dashoffset="-215.7"/>
<use href="#A0" class="G" stroke-dasharray="0.3 400" stroke-dashoffset="-216.5"/>
<use href="#A0" class="O" stroke-dasharray="0.3 400" stroke-dashoffset="-217.1"/>
<use href="#A0" class="G" stroke-dasharray="0.9 400" stroke-dashoffset="-217.5"/>
<use href="#A0" class="Lg" stroke-dasharray="0.2 400" stroke-dashoffset="-218"/>
<use href="#A0" class="Gy" stroke-dasharray="0.3 400" stroke-dashoffset="-218.5"/>
<use href="#A0" class="Iv" stroke-dasharray="0.3 400" stroke-dashoffset="-219.1"/>
<use href="#A0" class="Th" stroke-dasharray="0.4 400" stroke-dashoffset="-219.4"/>
<use href="#A0" class="O" stroke-dasharray="1 400" stroke-dashoffset="-219.8"/>
<use href="#A0" class="G" stroke-dasharray="0.2 400" stroke-dashoffset="-220.9"/>
<use href="#A0" class="Pu" stroke-dasharray="0.2 400" stroke-dashoffset="-221.1"/>
<use href="#A0" class="Br" stroke-dasharray="0.2 400" stroke-dashoffset="-221.3"/>
<use href="#A0" class="O" stroke-dasharray="0.2 400" stroke-dashoffset="-221.5"/>
<use href="#A0" class="G" stroke-dasharray="0.2 400" stroke-dashoffset="-221.7"/>
<use href="#A0" class="Pk" stroke-dasharray="1 400" stroke-dashoffset="-221.9"/>
<use href="#A0" class="Pu" stroke-dasharray="0.2 400" stroke-dashoffset="-223"/>
<use href="#A0" class="O" stroke-dasharray="0.7 400" stroke-dashoffset="-223.3"/>
<use href="#A0" class="G" stroke-dasharray="0.2 400" stroke-dashoffset="-224"/>
<use href="#A0" class="Iv" stroke-dasharray="0.2 400" stroke-dashoffset="-224.2"/>
<use href="#A0" class="O" stroke-dasharray="1.6 400" stroke-dashoffset="-224.4"/>
<use href="#A0" class="Cy" stroke-dasharray="2.5 400" stroke-dashoffset="-226"/>
<use href="#A0" class="G" stroke-dasharray="0.3 400" stroke-dashoffset="-228.6"/>
<use href="#A0" class="Lg" stroke-dasharray="0.2 400" stroke-dashoffset="-228.9"/>
<use href="#A0" class="O" stroke-dasharray="0.2 400" stroke-dashoffset="-229.1"/>
<use href="#A0" class="G" stroke-dasharray="0.9 400" stroke-dashoffset="-229.3"/>
<use href="#A0" class="R" stroke-dasharray="0.2 400" stroke-dashoffset="-230.4"/>
<use href="#A0" class="Th" stroke-dasharray="0.4 400" stroke-dashoffset="-230.6"/>
<use href="#A0" class="O" stroke-dasharray="0.2 400" stroke-dashoffset="-231"/>
<use href="#A0" class="G" stroke-dasharray="0.2 400" stroke-dashoffset="-231.3"/>
<use href="#A0" class="Lb" stroke-dasharray="0.4 400" stroke-dashoffset="-231.9"/>
<use href="#A0" class="Th" stroke-dasharray="1.5 400" stroke-dashoffset="-232.3"/>
<use href="#A0" class="O" stroke-dasharray="0.3 400" stroke-dashoffset="-234.3"/>
<use href="#A0" class="O" stroke-dasharray="1.6 400" stroke-dashoffset="-235"/>
<use href="#A0" class="Gy" stroke-dasharray="0.2 400" stroke-dashoffset="-236.6"/>
<use href="#A0" class="Lg" stroke-dasharray="0.2 400" stroke-dashoffset="-236.8"/>
<use href="#A0" class="Pu" stroke-dasharray="0.2 400" stroke-dashoffset="-237"/>
<use href="#A0" class="O" stroke-dasharray="0.3 400" stroke-dashoffset="-237.2"/>
<use href="#A0" class="O" stroke-dasharray="0.3 400" stroke-dashoffset="-237.8"/>
<use href="#A0" class="O" stroke-dasharray="0.3 400" stroke-dashoffset="-238.3"/>
<use href="#A0" class="Cy" stroke-dasharray="0.4 400" stroke-dashoffset="-238.6"/>
<use href="#A0" class="O" stroke-dasharray="0.4 400" stroke-dashoffset="-239"/>
<use href="#A0" class="O" stroke-dasharray="1.2 400" stroke-dashoffset="-239.8"/>
<use href="#A0" class="Cy" stroke-dasharray="0.3 400" stroke-dashoffset="-241"/>
<use href="#A0" class="O" stroke-dasharray="0.5 400" stroke-dashoffset="-241.3"/>
<use href="#A0" class="Lb" stroke-dasharray="1 400" stroke-dashoffset="-242.6"/>
<use href="#A0" class="G" stroke-dasharray="0.3 400" stroke-dashoffset="-244"/>
<use href="#A0" class="Br" stroke-dasharray="0.2 400" stroke-dashoffset="-244.3"/>
<use href="#A0" class="O" stroke-dasharray="0.4 400" stroke-dashoffset="-244.5"/>
<use href="#A0" class="G" stroke-dasharray="0.3 400" stroke-dashoffset="-244.9"/>
<use href="#A0" class="Lg" stroke-dasharray="0.5 400" stroke-dashoffset="-245.2"/>
<use href="#A0" class="O" stroke-dasharray="0.4 400" stroke-dashoffset="-246"/>
<use href="#A0" class="O" stroke-dasharray="0.2 400" stroke-dashoffset="-247.3"/>
<use href="#A0" class="Pu" stroke-dasharray="1.9 400" stroke-dashoffset="-247.5"/>
<use href="#A0" class="Bk" stroke-dasharray="4.7 400" stroke-dashoffset="-249.6"/>
<use href="#A0" class="Pu" stroke-dasharray="0.5 400" stroke-dashoffset="-250.3"/>
<use href="#A0" class="Cy" stroke-dasharray="0.3 400" stroke-dashoffset="-254.5"/>
<use href="#A0" class="Pu" stroke-dasharray="0.3 400" stroke-dashoffset="-254.9"/>
<use href="#A0" class="Br" stroke-dasharray="0.3 400" stroke-dashoffset="-255.4"/>
<use href="#A0" class="Pk" stroke-dasharray="0.3 400" stroke-dashoffset="-255.9"/>
<use href="#A0" class="Bk" stroke-dasharray="0.4 400" stroke-dashoffset="-256.3"/>
<use href="#A0" class="Iv" stroke-dasharray="0.3 400" stroke-dashoffset="-256.7"/>
<use href="#A0" class="Bk" stroke-dasharray="0.4 400" stroke-dashoffset="-257.1"/>
<use href="#A0" class="Lg" stroke-dasharray="0.5 400" stroke-dashoffset="-257.8"/>
<use href="#A0" class="Cy" stroke-dasharray="1.2 400" stroke-dashoffset="-260.5"/>
<use href="#A0" class="Bk" stroke-dasharray="1.7 400" stroke-dashoffset="-261.7"/>
<use href="#A0" class="G" stroke-dasharray="0.2 400" stroke-dashoffset="-262"/>
<use href="#A0" class="O" stroke-dasharray="1.4 400" stroke-dashoffset="-264.1"/>
<use href="#A0" class="Lg" stroke-dasharray="1.2 400" stroke-dashoffset="-265.8"/>
<use href="#A0" class="O" stroke-dasharray="1.4 400" stroke-dashoffset="-267"/>
<use href="#A0" class="O" stroke-dasharray="0.4 400" stroke-dashoffset="-268.5"/>
<use href="#A0" class="Pu" stroke-dasharray="0.2 400" stroke-dashoffset="-269.3"/>
<use href="#A0" class="Gy" stroke-dasharray="0.2 400" stroke-dashoffset="-269.8"/>
<use href="#A0" class="G" stroke-dasharray="0.3 400" stroke-dashoffset="-270.5"/>
<use href="#A0" class="Lb" stroke-dasharray="2.8 400" stroke-dashoffset="-271.9"/>
<use href="#A0" class="Th" stroke-dasharray="0.2 400" stroke-dashoffset="-275.2"/>
<use href="#A0" class="Lb" stroke-dasharray="0.3 400" stroke-dashoffset="-277.5"/>
<use href="#A0" class="R" stroke-dasharray="0.7 400" stroke-dashoffset="-277.8"/>
<use href="#A0" class="R" stroke-dasharray="0.3 400" stroke-dashoffset="-278.7"/>
<use href="#A0" class="Th" stroke-dasharray="1.2 400" stroke-dashoffset="-279.4"/>
<use href="#A0" class="Gy" stroke-dasharray="0.3 400" stroke-dashoffset="-280.6"/>
<use href="#A0" class="Th" stroke-dasharray="1.9 400" stroke-dashoffset="-280.9"/>
<use href="#A0" class="G" stroke-dasharray="0.2 400" stroke-dashoffset="-282.8"/>
<use href="#A0" class="Br" stroke-dasharray="0.2 400" stroke-dashoffset="-283"/>
<use href="#A0" class="Cy" stroke-dasharray="0.2 400" stroke-dashoffset="-284.4"/>
<use href="#A0" class="Bk" stroke-dasharray="0.4 400" stroke-dashoffset="-284.7"/>
<use href="#A0" class="Lg" stroke-dasharray="0.2 400" stroke-dashoffset="-285.1"/>
<use href="#A0" class="G" stroke-dasharray="0.3 400" stroke-dashoffset="-285.3"/>
<use href="#A0" class="Pu" stroke-dasharray="1.5 400" stroke-dashoffset="-285.6"/>
<use href="#A0" class="G" stroke-dasharray="0.3 400" stroke-dashoffset="-287.1"/>
<use href="#A0" class="R" stroke-dasharray="0.7 400" stroke-dashoffset="-287.4"/>
<use href="#A0" class="Gy" stroke-dasharray="0.4 400" stroke-dashoffset="-288.1"/>
<use href="#A0" class="Lg" stroke-dasharray="0.4 400" stroke-dashoffset="-288.5"/>
<use href="#A0" class="G" stroke-dasharray="0.3 400" stroke-dashoffset="-288.9"/>
<use href="#A0" class="Gy" stroke-dasharray="0.4 400" stroke-dashoffset="-289.2"/>
<use href="#A0" class="R" stroke-dasharray="2.1 400" stroke-dashoffset="-289.6"/>
<use href="#A0" class="R" stroke-dasharray="0.7 400" stroke-dashoffset="-291.9"/>
<use href="#A0" class="R" stroke-dasharray="0.4 400" stroke-dashoffset="-293"/>
<use href="#A0" class="R" stroke-dasharray="0.3 400" stroke-dashoffset="-294.2"/>
<use href="#A0" class="Cy" stroke-dasharray="0.3 400" stroke-dashoffset="-295.8"/>
<use href="#A0" class="B" stroke-dasharray="2.7 400" stroke-dashoffset="-297.3"/>
<use href="#A0" class="R" stroke-dasharray="0.4 400" stroke-dashoffset="-300"/>
<use href="#A0" class="Br" stroke-dasharray="0.4 400" stroke-dashoffset="-305"/>
<use href="#A0" class="Cy" stroke-dasharray="0.4 400" stroke-dashoffset="-305.6"/>
<use href="#A0" class="G" stroke-dasharray="0.2 400" stroke-dashoffset="-306"/>
<use href="#A0" class="Pu" stroke-dasharray="0.2 400" stroke-dashoffset="-306.2"/>
<use href="#A0" class="R" stroke-dasharray="0.3 400" stroke-dashoffset="-307"/>
<use href="#A0" class="Iv" stroke-dasharray="0.5 400" stroke-dashoffset="-307.4"/>
<use href="#A0" class="Lb" stroke-dasharray="0.7 400" stroke-dashoffset="-307.9"/>
<use href="#A0" class="R" stroke-dasharray="0.4 400" stroke-dashoffset="-308.6"/>
<use href="#A0" class="Lb" stroke-dasharray="1 400" stroke-dashoffset="-309"/>
<use href="#A0" class="R" stroke-dasharray="1.7 400" stroke-dashoffset="-310.2"/>
<use href="#A0" class="Cy" stroke-dasharray="0.3 400" stroke-dashoffset="-312.2"/>
<use href="#A0" class="Cy" stroke-dasharray="0.3 400" stroke-dashoffset="-312.8"/>
<use href="#A0" class="Pu" stroke-dasharray="0.3 400" stroke-dashoffset="-313.3"/>
<use href="#A0" class="Gy" stroke-dasharray="0.2 400" stroke-dashoffset="-313.6"/>
<use href="#A0" class="O" stroke-dasharray="0.3 400" stroke-dashoffset="-313.8"/>
<use href="#A0" class="Cy" stroke-dasharray="0.4 400" stroke-dashoffset="-315.7"/>
<use href="#A0" class="O" stroke-dasharray="0.4 400" stroke-dashoffset="-318.2"/>
<use href="#A0" class="Gy" stroke-dasharray="0.4 400" stroke-dashoffset="-319"/>
<use href="#A0" class="R" stroke-dasharray="0.7 400" stroke-dashoffset="-319.6"/>
<use href="#A0" class="Lg" stroke-dasharray="0.5 400" stroke-dashoffset="-320.5"/>
<use href="#A0" class="R" stroke-dasharray="0.8 400" stroke-dashoffset="-321.2"/>
<use href="#A0" class="Lb" stroke-dasharray="0.5 400" stroke-dashoffset="-322.5"/>
<use href="#A0" class="R" stroke-dasharray="1.6 400" stroke-dashoffset="-323.2"/>
<use href="#A0" class="G" stroke-dasharray="0.2 400" stroke-dashoffset="-323.8"/>
<use href="#A0" class="Lg" stroke-dasharray="0.2 400" stroke-dashoffset="-324"/>
<use href="#A0" class="Gy" stroke-dasharray="0.4 400" stroke-dashoffset="-325.5"/>
<use href="#A0" class="Gy" stroke-dasharray="0.3 400" stroke-dashoffset="-326.1"/>
<use href="#A0" class="G" stroke-dasharray="0.3 400" stroke-dashoffset="-326.5"/>
<use href="#A0" class="O" stroke-dasharray="0.4 400" stroke-dashoffset="-326.9"/>
<use href="#A0" class="Cy" stroke-dasharray="0.3 400" stroke-dashoffset="-327.3"/>
<use href="#A0" class="O" stroke-dasharray="1.6 400" stroke-dashoffset="-328"/>
<use href="#A0" class="O" stroke-dasharray="2.3 400" stroke-dashoffset="-330"/>
<use href="#A0" class="G" stroke-dasharray="0.4 400" stroke-dashoffset="-332.4"/>
<use href="#A0" class="Pk" stroke-dasharray="0.3 400" stroke-dashoffset="-333"/>
<use href="#A0" class="R" stroke-dasharray="0.4 400" stroke-dashoffset="-333.3"/>
<use href="#A0" class="G" stroke-dasharray="0.7 400" stroke-dashoffset="-333.8"/>
<use href="#A0" class="Pu" stroke-dasharray="0.4 400" stroke-dashoffset="-334.6"/>
<use href="#A0" class="Gy" stroke-dasharray="0.4 400" stroke-dashoffset="-336"/>
<use href="#A0" class="Iv" stroke-dasharray="0.2 400" stroke-dashoffset="-336.4"/>
<use href="#A0" class="Cy" stroke-dasharray="1.7 400" stroke-dashoffset="-336.6"/>
<use href="#A0" class="Cy" stroke-dasharray="0.5 400" stroke-dashoffset="-339.4"/>
<use href="#A0" class="Pk" stroke-dasharray="0.3 400" stroke-dashoffset="-340"/>
<use href="#A0" class="Bk" stroke-dasharray="0.3 400" stroke-dashoffset="-340.5"/>
<use href="#A0" class="G" stroke-dasharray="0.2 400" stroke-dashoffset="-340.9"/>
<use href="#A0" class="Cy" stroke-dasharray="0.3 400" stroke-dashoffset="-341.2"/>
<use href="#A0" class="G" stroke-dasharray="0.3 400" stroke-dashoffset="-341.6"/>
<use href="#A0" class="Th" stroke-dasharray="0.4 400" stroke-dashoffset="-342.2"/>
<use href="#A0" class="Pu" stroke-dasharray="0.4 400" stroke-dashoffset="-343.7"/>
<use href="#A0" class="Gy" stroke-dasharray="0.3 400" stroke-dashoffset="-344.2"/>
<use href="#A0" class="Pu" stroke-dasharray="0.3 400" stroke-dashoffset="-344.6"/>
<use href="#A0" class="O" stroke-dasharray="0.7 400" stroke-dashoffset="-345.1"/>
<use href="#A0" class="Cy" stroke-dasharray="0.2 400" stroke-dashoffset="-345.9"/>
<use href="#A0" class="O" stroke-dasharray="0.5 400" stroke-dashoffset="-346.1"/>
<use href="#A0" class="G" stroke-dasharray="0.2 400" stroke-dashoffset="-346.7"/>
<use href="#A0" class="Gy" stroke-dasharray="0.4 400" stroke-dashoffset="-346.9"/>
<use href="#A0" class="G" stroke-dasharray="0.4 400" stroke-dashoffset="-347.6"/>
<use href="#A0" class="Bk" stroke-dasharray="0.3 400" stroke-dashoffset="-348.1"/>
<use href="#A0" class="Lb" stroke-dasharray="0.3 400" stroke-dashoffset="-348.5"/>
<use href="#A0" class="Lb" stroke-dasharray="0.3 400" stroke-dashoffset="-349.8"/>
<use href="#A0" class="R" stroke-dasharray="0.8 400" stroke-dashoffset="-350.2"/>
<use href="#A0" class="G" stroke-dasharray="0.3 400" stroke-dashoffset="-351.7"/>
<use href="#A0" class="Pu" stroke-dasharray="0.2 400" stroke-dashoffset="-352"/>
<use href="#A0" class="R" stroke-dasharray="0.7 400" stroke-dashoffset="-352.3"/>
<use href="#A0" class="Lg" stroke-dasharray="0.4 400" stroke-dashoffset="-353.1"/>
<use href="#A0" class="G" stroke-dasharray="0.8 400" stroke-dashoffset="-353.7"/>
<use href="#A0" class="O" stroke-dasharray="0.4 400" stroke-dashoffset="-354.5"/>
<use href="#A0" class="Pk" stroke-dasharray="0.2 400" stroke-dashoffset="-354.9"/>
<use href="#A0" class="Br" stroke-dasharray="0.4 400" stroke-dashoffset="-355.1"/>
<use href="#A0" class="Lg" stroke-dasharray="0.3 400" stroke-dashoffset="-356.6"/>
<use href="#A0" class="Gy" stroke-dasharray="0.3 400" stroke-dashoffset="-356.9"/>
<use href="#A0" class="O" stroke-dasharray="0.3 400" stroke-dashoffset="-358.2"/>
<use href="#A0" class="Bk" stroke-dasharray="0.5 400" stroke-dashoffset="-358.7"/>
<use href="#A0" class="Pk" stroke-dasharray="0.2 400" stroke-dashoffset="-359.8"/>
<use href="#A0" class="Pk" stroke-dasharray="0.1 400"/>
<use href="#A0" class="O" stroke-dasharray="0.5 400" stroke-dashoffset="-0.5"/>
<use href="#A0" class="Br" stroke-dasharray="0.4 400" stroke-dashoffset="-1"/>
<use href="#A0" class="Bk" stroke-dasharray="0.3 400" stroke-dashoffset="-1.6"/>
<use href="#A0" class="O" stroke-dasharray="0.4 400" stroke-dashoffset="-2.1"/>
<use href="#A0" class="O" stroke-dasharray="0.3 400" stroke-dashoffset="-2.6"/>
<use href="#A0" class="G" stroke-dasharray="0.3 400" stroke-dashoffset="-2.9"/>
<use href="#A0" class="Pu" stroke-dasharray="0.2 400" stroke-dashoffset="-3.4"/>
<use href="#A0" class="Pk" stroke-dasharray="0.2 400" stroke-dashoffset="-3.6"/>
<use href="#A0" class="Pu" stroke-dasharray="0.3 400" stroke-dashoffset="-4.2"/>
<use href="#A0" class="Gy" stroke-dasharray="0.3 400" stroke-dashoffset="-4.5"/>
<use href="#A0" class="Pu" stroke-dasharray="0.3 400" stroke-dashoffset="-5"/>
<use href="#A0" class="Lb" stroke-dasharray="0.5 400" stroke-dashoffset="-5.5"/>
<use href="#A0" class="Lg" stroke-dasharray="0.4 400" stroke-dashoffset="-6"/>
<use href="#A0" class="R" stroke-dasharray="0.5 400" stroke-dashoffset="-6.5"/>
<use href="#A0" class="Lb" stroke-dasharray="0.8 400" stroke-dashoffset="-7"/>
<use href="#A0" class="Cy" stroke-dasharray="0.3 400" stroke-dashoffset="-8.1"/>
<use href="#A0" class="O" stroke-dasharray="0.4 400" stroke-dashoffset="-8.4"/>
<use href="#A0" class="Pk" stroke-dasharray="1.2 400" stroke-dashoffset="-8.8"/>
<use href="#A0" class="Lg" stroke-dasharray="0.3 400" stroke-dashoffset="-10"/>
<use href="#A0" class="Lb" stroke-dasharray="0.4 400" stroke-dashoffset="-10.6"/>
<use href="#A0" class="R" stroke-dasharray="1 400" stroke-dashoffset="-11"/>
<use href="#A0" class="R" stroke-dasharray="0.6 400" stroke-dashoffset="-12.1"/>
<use href="#A0" class="Lg" stroke-dasharray="0.4 400" stroke-dashoffset="-12.7"/>
<use href="#A0" class="Gy" stroke-dasharray="0.4 400" stroke-dashoffset="-13.1"/>
<use href="#A0" class="Lg" stroke-dasharray="1 400" stroke-dashoffset="-13.8"/>
<use href="#A0" class="Lb" stroke-dasharray="0.3 400" stroke-dashoffset="-15.6"/>
<use href="#A0" class="Lg" stroke-dasharray="0.4 400" stroke-dashoffset="-15.9"/>
<use href="#A0" class="Lb" stroke-dasharray="2.1 400" stroke-dashoffset="-16.5"/>
<use href="#A0" class="Lb" stroke-dasharray="1.4 400" stroke-dashoffset="-19.2"/>
<use href="#A0" class="R" stroke-dasharray="0.9 400" stroke-dashoffset="-20.7"/>
<use href="#A0" class="R" stroke-dasharray="1.4 400" stroke-dashoffset="-21.9"/>
<use href="#A0" class="Cy" stroke-dasharray="0.4 400" stroke-dashoffset="-23.7"/>
<use href="#A0" class="Lb" stroke-dasharray="0.2 400" stroke-dashoffset="-24.1"/>
<use href="#A0" class="R" stroke-dasharray="0.3 400" stroke-dashoffset="-24.4"/>
<use href="#A0" class="R" stroke-dasharray="0.3 400" stroke-dashoffset="-25"/>
<use href="#A0" class="Iv" stroke-dasharray="0.6 400" stroke-dashoffset="-25.4"/>
<use href="#A0" class="O" stroke-dasharray="1.8 400" stroke-dashoffset="-26"/>
<use href="#A0" class="Cy" stroke-dasharray="0.4 400" stroke-dashoffset="-31.6"/>
<use href="#A0" class="R" stroke-dasharray="0.4 400" stroke-dashoffset="-32.3"/>
<use href="#A0" class="B" stroke-dasharray="0.4 400" stroke-dashoffset="-35.3"/>
<use href="#A0" class="R" stroke-dasharray="2.8 400" stroke-dashoffset="-36"/>
<use href="#A0" class="R" stroke-dasharray="0.3 400" stroke-dashoffset="-39.1"/>
<use href="#A0" class="Cy" stroke-dasharray="0.4 400" stroke-dashoffset="-39.7"/>
<use href="#A0" class="R" stroke-dasharray="0.3 400" stroke-dashoffset="-40.4"/>
<use href="#A0" class="O" stroke-dasharray="0.6 400" stroke-dashoffset="-41"/>
<use href="#A0" class="R" stroke-dasharray="0.4 400" stroke-dashoffset="-41.9"/>
<use href="#A0" class="Pk" stroke-dasharray="5.9 400" stroke-dashoffset="-42.8"/>
<use href="#A0" class="B" stroke-dasharray="6.3 400" stroke-dashoffset="-49"/>
<use href="#A0" class="B" stroke-dasharray="0.7 400" stroke-dashoffset="-55.7"/>
<use href="#A0" class="Gy" stroke-dasharray="0.4 400" stroke-dashoffset="-60.6"/>
<use href="#A0" class="Pk" stroke-dasharray="0.3 400" stroke-dashoffset="-61"/>
<use href="#A0" class="O" stroke-dasharray="0.6 400" stroke-dashoffset="-61.3"/>
<use href="#A0" class="G" stroke-dasharray="0.6 400" stroke-dashoffset="-62"/>
<use href="#A0" class="Lg" stroke-dasharray="0.4 400" stroke-dashoffset="-62.7"/>
<use href="#A0" class="O" stroke-dasharray="1.8 400" stroke-dashoffset="-63.1"/>
<use href="#A0" class="O" stroke-dasharray="0.5 400" stroke-dashoffset="-66.5"/>
<use href="#A0" class="O" stroke-dasharray="0.4 400" stroke-dashoffset="-67.6"/>
<use href="#A0" class="O" stroke-dasharray="0.3 400" stroke-dashoffset="-69.2"/>
<use href="#A0" class="B" stroke-dasharray="1.2 400" stroke-dashoffset="-70"/>
<use href="#A0" class="O" stroke-dasharray="0.3 400" stroke-dashoffset="-72"/>
<use href="#A0" class="R" stroke-dasharray="1 400" stroke-dashoffset="-72.3"/>
<use href="#A0" class="Pk" stroke-dasharray="0.6 400" stroke-dashoffset="-73.4"/>
<use href="#A0" class="R" stroke-dasharray="1.3 400" stroke-dashoffset="-74.9"/>
<use href="#A0" class="G" stroke-dasharray="0.3 400" stroke-dashoffset="-75.4"/>
<use href="#A0" class="Pk" stroke-dasharray="0.5 400" stroke-dashoffset="-76.3"/>
<use href="#A0" class="G" stroke-dasharray="0.4 400" stroke-dashoffset="-77.3"/>
<use href="#A0" class="Pu" stroke-dasharray="29.2 400" stroke-dashoffset="-77.7"/>
<use href="#A0" class="Gy" stroke-dasharray="0.5 400" stroke-dashoffset="-107"/>
<use href="#A0" class="G" stroke-dasharray="0.4 400" stroke-dashoffset="-108.3"/>
<use href="#A0" class="O" stroke-dasharray="0.4 400" stroke-dashoffset="-108.9"/>
<use href="#A0" class="Br" stroke-dasharray="0.4 400" stroke-dashoffset="-109.5"/>
<use href="#A0" class="G" stroke-dasharray="0.3 400" stroke-dashoffset="-110.2"/>
<use href="#A0" class="O" stroke-dasharray="0.3 400" stroke-dashoffset="-110.5"/>
<use href="#A0" class="Br" stroke-dasharray="0.4 400" stroke-dashoffset="-111.1"/>
<use href="#A0" class="O" stroke-dasharray="0.4 400" stroke-dashoffset="-111.6"/>
<use href="#A0" class="G" stroke-dasharray="0.4 400" stroke-dashoffset="-112.5"/>
<use href="#A0" class="Pk" stroke-dasharray="0.6 400" stroke-dashoffset="-114"/>
<use href="#A0" class="Iv" stroke-dasharray="0.6 400" stroke-dashoffset="-115.3"/>
<use href="#A0" class="G" stroke-dasharray="1.3 400" stroke-dashoffset="-116"/>
<use href="#A0" class="Pu" stroke-dasharray="0.3 400" stroke-dashoffset="-117.3"/>
<use href="#A0" class="Br" stroke-dasharray="0.3 400" stroke-dashoffset="-117.6"/>
<use href="#A0" class="O" stroke-dasharray="0.3 400" stroke-dashoffset="-117.9"/>
<use href="#A0" class="Pk" stroke-dasharray="0.4 400" stroke-dashoffset="-118.6"/>
<use href="#A0" class="Lb" stroke-dasharray="0.3 400" stroke-dashoffset="-119.1"/>
<use href="#A0" class="G" stroke-dasharray="0.3 400" stroke-dashoffset="-119.5"/>
<use href="#A0" class="R" stroke-dasharray="1.7 400" stroke-dashoffset="-119.9"/>
<use href="#A0" class="Lg" stroke-dasharray="0.3 400" stroke-dashoffset="-120.5"/>
<use href="#A0" class="Lg" stroke-dasharray="0.8 400" stroke-dashoffset="-121.7"/>
<use href="#A0" class="R" stroke-dasharray="0.7 400" stroke-dashoffset="-122.8"/>
<use href="#A0" class="Iv" stroke-dasharray="0.5 400" stroke-dashoffset="-124.2"/>
<use href="#A0" class="Pu" stroke-dasharray="0.3 400" stroke-dashoffset="-124.8"/>
<use href="#A0" class="Br" stroke-dasharray="0.3 400" stroke-dashoffset="-125.2"/>
<use href="#A0" class="G" stroke-dasharray="0.4 400" stroke-dashoffset="-125.6"/>
<use href="#A0" class="Cy" stroke-dasharray="0.3 400" stroke-dashoffset="-126.2"/>
<use href="#A0" class="G" stroke-dasharray="0.4 400" stroke-dashoffset="-126.6"/>
<use href="#A0" class="Iv" stroke-dasharray="0.4 400" stroke-dashoffset="-127"/>
<use href="#A0" class="G" stroke-dasharray="1.5 400" stroke-dashoffset="-127.5"/>
<use href="#A0" class="Bk" stroke-dasharray="0.3 400" stroke-dashoffset="-129.2"/>
<use href="#A0" class="Iv" stroke-dasharray="0.4 400" stroke-dashoffset="-129.6"/>
<use href="#A0" class="G" stroke-dasharray="0.9 400" stroke-dashoffset="-130.1"/>
<use href="#A0" class="Bk" stroke-dasharray="0.3 400" stroke-dashoffset="-131.2"/>
<use href="#A0" class="Iv" stroke-dasharray="0.4 400" stroke-dashoffset="-131.6"/>
<use href="#A0" class="G" stroke-dasharray="1 400" stroke-dashoffset="-132"/>
<use href="#A0" class="O" stroke-dasharray="0.3 400" stroke-dashoffset="-133.1"/>
<use href="#A0" class="Cy" stroke-dasharray="0.4 400" stroke-dashoffset="-133.5"/>
<use href="#A0" class="Br" stroke-dasharray="0.3 400" stroke-dashoffset="-134"/>
<use href="#A0" class="G" stroke-dasharray="0.6 400" stroke-dashoffset="-134.4"/>
<use href="#A0" class="Pu" stroke-dasharray="0.3 400" stroke-dashoffset="-135.1"/>
<use href="#A0" class="B" stroke-dasharray="0.3 400" stroke-dashoffset="-135.5"/>
<use href="#A0" class="Lb" stroke-dasharray="0.4 400" stroke-dashoffset="-135.9"/>
<use href="#A0" class="Lg" stroke-dasharray="0.4 400" stroke-dashoffset="-136.4"/>
<use href="#A0" class="R" stroke-dasharray="0.7 400" stroke-dashoffset="-136.9"/>
<use href="#A0" class="G" stroke-dasharray="0.5 400" stroke-dashoffset="-137.7"/>
<use href="#A0" class="Cy" stroke-dasharray="0.3 400" stroke-dashoffset="-138.3"/>
<use href="#A0" class="Br" stroke-dasharray="0.3 400" stroke-dashoffset="-138.7"/>
<use href="#A0" class="Lg" stroke-dasharray="0.3 400" stroke-dashoffset="-139"/>
<use href="#A0" class="R" stroke-dasharray="0.9 400" stroke-dashoffset="-139.8"/>
<use href="#A0" class="R" stroke-dasharray="1.4 400" stroke-dashoffset="-140.8"/>
<use href="#A0" class="Lg" stroke-dasharray="0.4 400" stroke-dashoffset="-142.2"/>
<use href="#A0" class="R" stroke-dasharray="1.9 400" stroke-dashoffset="-142.6"/>
<use href="#A0" class="R" stroke-dasharray="0.5 400" stroke-dashoffset="-144.7"/>
<use href="#A0" class="O" stroke-dasharray="1.1 400" stroke-dashoffset="-145.3"/>
<use href="#A0" class="O" stroke-dasharray="1.6 400" stroke-dashoffset="-146.7"/>
<use href="#A0" class="O" stroke-dasharray="1.1 400" stroke-dashoffset="-148.5"/>
<use href="#A0" class="O" stroke-dasharray="1.4 400" stroke-dashoffset="-150.1"/>
<use href="#A0" class="O" stroke-dasharray="0.3 400" stroke-dashoffset="-151.9"/>
<use href="#A0" class="G" stroke-dasharray="0.8 400" stroke-dashoffset="-152.2"/>
<use href="#A0" class="Pk" stroke-dasharray="0.4 400" stroke-dashoffset="-153"/>
<use href="#A0" class="Th" stroke-dasharray="1.5 400" stroke-dashoffset="-153.4"/>
<use href="#A0" class="G" stroke-dasharray="0.5 400" stroke-dashoffset="-154.9"/>
<use href="#A0" class="G" stroke-dasharray="1.1 400" stroke-dashoffset="-156.4"/>
<use href="#A0" class="G" stroke-dasharray="0.3 400" stroke-dashoffset="-157.7"/>
<use href="#A0" class="Cy" stroke-dasharray="2 400" stroke-dashoffset="-158"/>
<use href="#A0" class="G" stroke-dasharray="0.4 400" stroke-dashoffset="-160"/>
<use href="#A0" class="Cy" stroke-dasharray="0.4 400" stroke-dashoffset="-160.4"/>
<use href="#A0" class="Br" stroke-dasharray="0.4 400" stroke-dashoffset="-160.8"/>
<use href="#A0" class="Lb" stroke-dasharray="0.3 400" stroke-dashoffset="-161.2"/>
<use href="#A0" class="O" stroke-dasharray="0.4 400" stroke-dashoffset="-161.5"/>
<use href="#A0" class="Cy" stroke-dasharray="0.4 400" stroke-dashoffset="-162"/>
<use href="#A0" class="Lb" stroke-dasharray="0.3 400" stroke-dashoffset="-162.5"/>
<use href="#A0" class="O" stroke-dasharray="0.8 400" stroke-dashoffset="-162.8"/>
<use href="#A0" class="Cy" stroke-dasharray="0.3 400" stroke-dashoffset="-163.6"/>
<use href="#A0" class="Pu" stroke-dasharray="0.3 400" stroke-dashoffset="-163.9"/>
<use href="#A0" class="G" stroke-dasharray="0.4 400" stroke-dashoffset="-164.2"/>
<use href="#A0" class="Gy" stroke-dasharray="0.3 400" stroke-dashoffset="-164.6"/>
<use href="#A0" class="G" stroke-dasharray="0.7 400" stroke-dashoffset="-164.9"/>
<use href="#A0" class="Lb" stroke-dasharray="0.2 400" stroke-dashoffset="-165.6"/>
<use href="#A0" class="Th" stroke-dasharray="0.4 400" stroke-dashoffset="-165.8"/>
<use href="#A0" class="Bk" stroke-dasharray="0.4 400" stroke-dashoffset="-166.2"/>
<use href="#A0" class="G" stroke-dasharray="0.9 400" stroke-dashoffset="-166.6"/>
<use href="#A0" class="Pk" stroke-dasharray="0.4 400" stroke-dashoffset="-168"/>
<use href="#A0" class="Gy" stroke-dasharray="0.3 400" stroke-dashoffset="-168.4"/>
<use href="#A0" class="Pu" stroke-dasharray="0.6 400" stroke-dashoffset="-168.8"/>
<use href="#A0" class="G" stroke-dasharray="0.7 400" stroke-dashoffset="-169.4"/>
<use href="#A0" class="G" stroke-dasharray="0.3 400" stroke-dashoffset="-171.5"/>
<use href="#A0" class="Pk" stroke-dasharray="0.3 400" stroke-dashoffset="-171.8"/>
<use href="#A0" class="R" stroke-dasharray="0.3 400" stroke-dashoffset="-173"/>
<use href="#A0" class="G" stroke-dasharray="0.2 400" stroke-dashoffset="-173.6"/>
<use href="#A0" class="Br" stroke-dasharray="0.4 400" stroke-dashoffset="-173.8"/>
<use href="#A0" class="Pu" stroke-dasharray="0.3 400" stroke-dashoffset="-174.2"/>
<use href="#A0" class="G" stroke-dasharray="0.3 400" stroke-dashoffset="-174.5"/>
<use href="#A0" class="Pk" stroke-dasharray="0.3 400" stroke-dashoffset="-177.5"/>
<use href="#A0" class="Gy" stroke-dasharray="0.2 400" stroke-dashoffset="-178"/>
<use href="#A0" class="Lg" stroke-dasharray="0.3 400" stroke-dashoffset="-178.2"/>
<use href="#A0" class="O" stroke-dasharray="0.6 400" stroke-dashoffset="-178.6"/>
<use href="#A0" class="G" stroke-dasharray="0.3 400" stroke-dashoffset="-179.6"/>
<use href="#A0" class="Br" stroke-dasharray="0.3 400" stroke-dashoffset="-179.9"/>
<use href="#A0" class="Lg" stroke-dasharray="0.5 400" stroke-dashoffset="-180.2"/>
<use href="#A0" class="G" stroke-dasharray="0.4 400" stroke-dashoffset="-180.7"/>
<use href="#A0" class="Lg" stroke-dasharray="0.4 400" stroke-dashoffset="-181.1"/>
<use href="#A0" class="G" stroke-dasharray="0.5 400" stroke-dashoffset="-181.5"/>
<use href="#A0" class="Pk" stroke-dasharray="0.2 400" stroke-dashoffset="-182"/>
<use href="#A0" class="Pu" stroke-dasharray="0.3 400" stroke-dashoffset="-182.4"/>
<use href="#A0" class="Pu" stroke-dasharray="0.3 400" stroke-dashoffset="-183.4"/>
<use href="#A0" class="O" stroke-dasharray="0.3 400" stroke-dashoffset="-183.8"/>
<use href="#A0" class="Pu" stroke-dasharray="0.2 400" stroke-dashoffset="-184.4"/>
<use href="#A0" class="Lb" stroke-dasharray="0.3 400" stroke-dashoffset="-184.7"/>
<use href="#A0" class="Lb" stroke-dasharray="0.5 400" stroke-dashoffset="-185.1"/>
<use href="#A0" class="Pk" stroke-dasharray="0.3 400" stroke-dashoffset="-185.6"/>
<use href="#A0" class="Bk" stroke-dasharray="0.3 400" stroke-dashoffset="-185.9"/>
<use href="#A0" class="G" stroke-dasharray="0.8 400" stroke-dashoffset="-186.2"/>
<use href="#A0" class="Br" stroke-dasharray="0.3 400" stroke-dashoffset="-187"/>
<use href="#A0" class="O" stroke-dasharray="1.8 400" stroke-dashoffset="-187.3"/>
<use href="#A0" class="Lb" stroke-dasharray="0.3 400" stroke-dashoffset="-189.1"/>
<use href="#A0" class="Lg" stroke-dasharray="0.3 400" stroke-dashoffset="-189.4"/>
<use href="#A0" class="O" stroke-dasharray="0.6 400" stroke-dashoffset="-189.7"/>
<use href="#A0" class="Pu" stroke-dasharray="0.3 400" stroke-dashoffset="-190.3"/>
<use href="#A0" class="G" stroke-dasharray="1.1 400" stroke-dashoffset="-190.6"/>
<use href="#A0" class="Bk" stroke-dasharray="0.3 400" stroke-dashoffset="-191.7"/>
<use href="#A0" class="Cy" stroke-dasharray="0.5 400" stroke-dashoffset="-192"/>
<use href="#A0" class="G" stroke-dasharray="0.9 400" stroke-dashoffset="-192.5"/>
<use href="#A0" class="O" stroke-dasharray="0.3 400" stroke-dashoffset="-193.4"/>
<use href="#A0" class="Lb" stroke-dasharray="0.7 400" stroke-dashoffset="-193.7"/>
<use href="#A0" class="G" stroke-dasharray="0.3 400" stroke-dashoffset="-194.9"/>
<use href="#A0" class="Cy" stroke-dasharray="0.3 400" stroke-dashoffset="-195.2"/>
<use href="#A0" class="Br" stroke-dasharray="0.3 400" stroke-dashoffset="-195.5"/>
<use href="#A0" class="Pu" stroke-dasharray="0.6 400" stroke-dashoffset="-195.8"/>
<use href="#A0" class="Bk" stroke-dasharray="0.6 400" stroke-dashoffset="-196.4"/>
<use href="#A0" class="Pk" stroke-dasharray="0.5 400" stroke-dashoffset="-197.2"/>
<use href="#A0" class="G" stroke-dasharray="0.6 400" stroke-dashoffset="-197.7"/>
<use href="#A0" class="R" stroke-dasharray="0.4 400" stroke-dashoffset="-199.1"/>
<use href="#A0" class="R" stroke-dasharray="0.4 400" stroke-dashoffset="-199.8"/>
</g>

<g id="legend-serotypes" class="lg">
<text x="10" y="295">Serotypes</text>
<line class="ln" x1="3" y1="321" x2="279" y2="321"/>
<rect x="10" y="342" width="63" height="62" fill="#3333ff"/><text x="104" y="389">Ia</text>
<rect x="10" y="436" width="63" height="62" fill="#ff9999"/><text x="104" y="483">Ib</text>
<rect x="10" y="530" width="63" height="62" fill="#ff0000"/><text x="104" y="577">II</text>
<rect x="10" y="624" width="63" height="62" fill="#ffb553"/><text x="104" y="671">III</text>
<rect x="10" y="718" width="63" height="62" fill="#ff33cc"/><text x="104" y="765">IV</text>
<rect x="10" y="812" width="63" height="62" fill="#4dff4d"/><text x="104" y="859">V</text>
<rect x="10" y="906" width="63" height="62" fill="#aa33ff"/><text x="104" y="953">VI</text>
<rect x="10" y="1000" width="63" height="62" fill="#a52a2a"/><text x="104" y="1047">VII</text>
<rect x="10" y="1094" width="63" height="62" fill="#00aa00"/><text x="104" y="1141">VIII</text>
<rect x="10" y="1188" width="63" height="62" fill="#ffff4d"/><text x="104" y="1235">Unknow</text>
</g>
<g id="legend-source" class="lg">
<text x="8" y="1374">Source</text>
<line class="ln" x1="0" y1="1400" x2="328" y2="1400"/>
<rect x="7" y="1422" width="63" height="62" fill="#3333ff"/><text x="102" y="1469">human</text>
<rect x="7" y="1515" width="63" height="62" fill="#bc8f8f"/><text x="102" y="1562">nonhuman</text>
</g>
<g id="legend-mlst" class="lg">
<text x="2404" y="357">MLST</text>
<line class="ln" x1="2397" y1="382" x2="2655" y2="382"/>
<rect x="2403" y="404" width="63" height="62" fill="#ff0000"/><text x="2497" y="451">ST-23</text>
<rect x="2403" y="498" width="63" height="62" fill="#0000ff"/><text x="2497" y="545">ST-19</text>
<rect x="2403" y="592" width="63" height="62" fill="#008000"/><text x="2497" y="639">ST-1</text>
<rect x="2403" y="686" width="63" height="62" fill="#a52a2a"/><text x="2497" y="733">ST-12</text>
<rect x="2403" y="780" width="63" height="62" fill="#add8e6"/><text x="2497" y="827">ST-260</text>
<rect x="2403" y="874" width="63" height="62" fill="#ffa500"/><text x="2497" y="921">ST-261</text>
<rect x="2403" y="967" width="63" height="62" fill="#ffc0cb"/><text x="2497" y="1014">ST-61</text>
<rect x="2403" y="1061" width="63" height="62" fill="#00ffff"/><text x="2497" y="1108">ST-2</text>
<rect x="2403" y="1155" width="63" height="62" fill="#ffffe0"/><text x="2497" y="1202">ST-554</text>
<rect x="2403" y="1249" width="63" height="62" fill="#90ee90"/><text x="2497" y="1296">ST-17</text>
</g>
<g id="legend-area" class="lg">
<text x="2701" y="357">Area</text>
<line class="ln" x1="2693" y1="382" x2="3135" y2="382"/>
<rect x="2699" y="404" width="64" height="62" fill="#ff0000"/><text x="2794" y="451">China</text>
<rect x="2699" y="498" width="64" height="62" fill="#0000ff"/><text x="2794" y="545">Brazil</text>
<rect x="2699" y="592" width="64" height="62" fill="#008000"/><text x="2794" y="639">France</text>
<rect x="2699" y="685" width="64" height="62" fill="#ffff00"/><text x="2794" y="732">Taiwan(China)</text>
<rect x="2699" y="779" width="64" height="62" fill="#800080"/><text x="2794" y="826">Portugal</text>
<rect x="2699" y="873" width="64" height="62" fill="#ffa500"/><text x="2794" y="920">United States</text>
<rect x="2699" y="967" width="64" height="62" fill="#00ffff"/><text x="2794" y="1014">Denmark</text>
<rect x="2699" y="1060" width="64" height="62" fill="#ffc0cb"/><text x="2794" y="1107">Australia</text>
<rect x="2699" y="1154" width="64" height="62" fill="#a52a2a"/><text x="2794" y="1201">Germany</text>
<rect x="2699" y="1248" width="64" height="62" fill="#000000"/><text x="2794" y="1295">Spain</text>
<rect x="2699" y="1342" width="64" height="62" fill="#808080"/><text x="2794" y="1389">United Kingdom</text>
<rect x="2699" y="1435" width="64" height="62" fill="#90ee90"/><text x="2794" y="1482">Norway</text>
<rect x="2699" y="1529" width="64" height="62" fill="#ffffe0"/><text x="2794" y="1576">Italy</text>
<rect x="2699" y="1623" width="64" height="62" fill="#d8bfd8"/><text x="2794" y="1670">Sri Lanka</text>
</g>
</svg>
